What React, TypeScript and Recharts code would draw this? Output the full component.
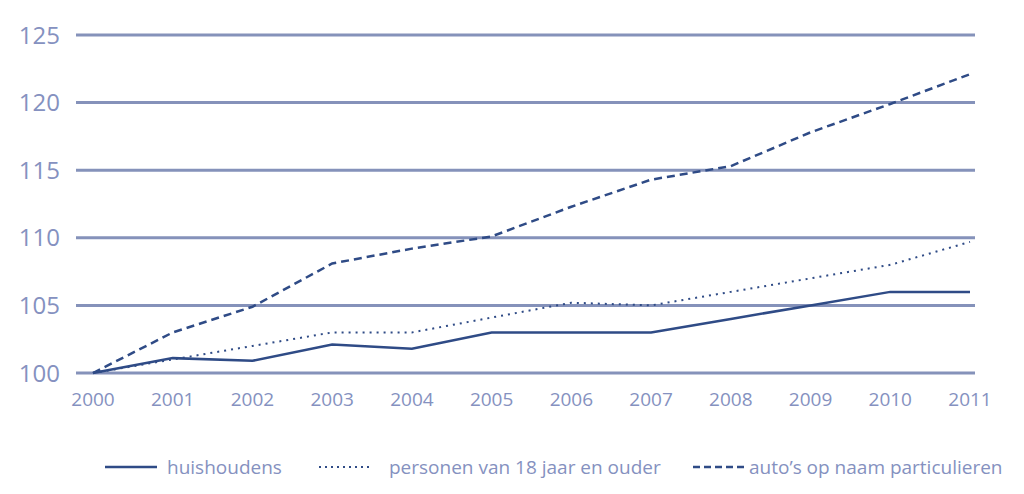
import { CartesianGrid, Line, LineChart, XAxis, YAxis } from "recharts";

const years = ["2000", "2001", "2002", "2003", "2004", "2005", "2006", "2007", "2008", "2009", "2010", "2011"];
const huishoudens = [100, 101.1, 100.9, 102.1, 101.8, 103, 103, 103, 104, 105, 106, 106];
const personen = [100, 101, 102, 103, 103, 104.1, 105.2, 105, 106, 107, 108, 109.7];
const autos = [100, 103, 104.9, 108.1, 109.2, 110.1, 112.3, 114.3, 115.3, 117.8, 119.9, 122.1];
const yTicks = [100, 105, 110, 115, 120, 125];

const data = years.map((year, i) => ({
  year,
  huishoudens: huishoudens[i],
  personen: personen[i],
  autos: autos[i],
}));

const LINE = "#2f4b86";
const GRID = "#8592ba";
const TEXT = "#8591c0";
const FONT = "'Open Sans', sans-serif";

// legend swatches: left offset of each item, gap before its label
const legendItems = [
  { label: "huishoudens", dash: undefined as string | undefined, width: 2.5, left: 97, gap: 10 },
  { label: "personen van 18 jaar en ouder", dash: "2 4", width: 2, left: 311, gap: 18 },
  { label: "auto’s op naam particulieren", dash: "7 4", width: 2.5, left: 685, gap: 4 },
];

const ChartLegend = () => (
  <div style={{ position: "absolute", left: 0, top: 446, fontFamily: FONT, fontSize: 19, color: TEXT }}>
    {legendItems.map((item) => (
      <div
        key={item.label}
        style={{ position: "absolute", left: item.left, display: "flex", alignItems: "center", whiteSpace: "nowrap" }}
      >
        <svg width={52} height={10}>
          <line x1={0} y1={5} x2={52} y2={5} stroke={LINE} strokeWidth={item.width} strokeDasharray={item.dash} />
        </svg>
        <span style={{ marginLeft: item.gap }}>{item.label}</span>
      </div>
    ))}
  </div>
);

export default function App() {
  return (
    <div style={{ position: "relative", width: 1010, height: 480 }}>
      <LineChart width={1010} height={480} data={data} margin={{ top: 27, right: 43, bottom: 85, left: 8 }}>
        <CartesianGrid vertical={false} stroke={GRID} strokeWidth={3} />
        <XAxis
          dataKey="year"
          axisLine={false}
          tickLine={false}
          padding={{ left: 17, right: 5 }}
          interval={0}
          tick={{ fill: TEXT, fontSize: 19, fontFamily: FONT }}
          dy={12}
          height={30}
        />
        <YAxis
          domain={[100, 125]}
          ticks={yTicks}
          axisLine={false}
          tickLine={false}
          width={60}
          tick={{ fill: TEXT, fontSize: 24, fontFamily: FONT }}
          dx={-8}
        />
        <Line dataKey="huishoudens" stroke={LINE} strokeWidth={2.5} dot={false} isAnimationActive={false} />
        <Line dataKey="personen" stroke={LINE} strokeWidth={2} strokeDasharray="2 5" dot={false} isAnimationActive={false} />
        <Line dataKey="autos" stroke={LINE} strokeWidth={2.5} strokeDasharray="8 5" dot={false} isAnimationActive={false} />
      </LineChart>
      <ChartLegend />
    </div>
  );
}
